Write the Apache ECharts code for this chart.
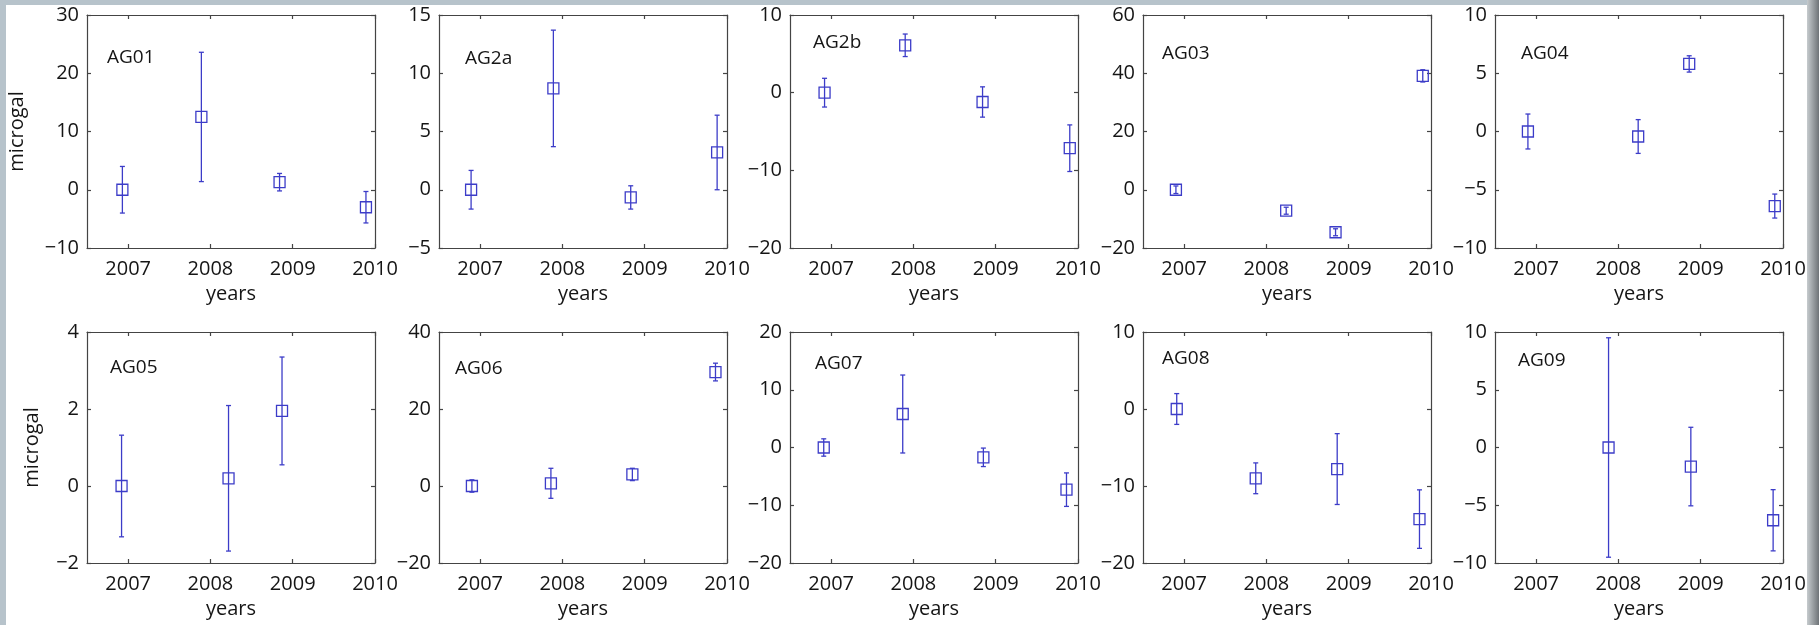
<!DOCTYPE html>
<html>
<head>
<meta charset="utf-8">
<script src="https://cdn.jsdelivr.net/npm/echarts@6.0.0/dist/echarts.min.js"></script>
<style>
html, body { margin: 0; padding: 0; background: #fff; }
#chart { width: 1819px; height: 625px; }
</style>
</head>
<body>
<div id="chart"></div>
<script>
// Data: gravity change per station (microgal), epoch in decimal years, symmetric error
const stations = ['AG01', 'AG2a', 'AG2b', 'AG03', 'AG04', 'AG05', 'AG06', 'AG07', 'AG08', 'AG09'];
const yearTicks = [2007, 2008, 2009, 2010];

const timeAG01 = [2006.93, 2007.89, 2008.84, 2009.89];
const gravAG01 = [0, 12.5, 1.3, -3.0];
const errAG01 = [4.0, 11.1, 1.5, 2.7];

const timeAG2a = [2006.89, 2007.89, 2008.83, 2009.88];
const gravAG2a = [0, 8.7, -0.66, 3.2];
const errAG2a = [1.66, 5.0, 1.0, 3.2];

const timeAG2b = [2006.92, 2007.9, 2008.84, 2009.9];
const gravAG2b = [0, 6.1, -1.2, -7.15];
const errAG2b = [1.85, 1.45, 1.95, 3.0];

const timeAG03 = [2006.9, 2008.24, 2008.84, 2009.9];
const gravAG03 = [0, -7.2, -14.6, 39.1];
const errAG03 = [1.3, 1.2, 1.2, 2.1];

const timeAG04 = [2006.9, 2008.24, 2008.86, 2009.9];
const gravAG04 = [0, -0.43, 5.8, -6.4];
const errAG04 = [1.5, 1.45, 0.7, 1.03];

const timeAG05 = [2006.92, 2008.22, 2008.87];
const gravAG05 = [0, 0.2, 1.95];
const errAG05 = [1.32, 1.89, 1.4];

const timeAG06 = [2006.9, 2007.86, 2008.85, 2009.86];
const gravAG06 = [0, 0.7, 3.0, 29.6];
const errAG06 = [1.6, 3.9, 1.6, 2.3];

const timeAG07 = [2006.91, 2007.87, 2008.85, 2009.86];
const gravAG07 = [0, 5.8, -1.7, -7.3];
const errAG07 = [1.5, 6.75, 1.6, 2.9];

const timeAG08 = [2006.91, 2007.87, 2008.86, 2009.86];
const gravAG08 = [0, -9.0, -7.8, -14.3];
const errAG08 = [2.0, 2.0, 4.6, 3.8];

const timeAG09 = [2007.88, 2008.88, 2009.88];
const gravAG09 = [0, -1.65, -6.3];
const errAG09 = [9.5, 3.4, 2.65];

const yMin = [-10, -5, -20, -20, -10, -2, -20, -20, -20, -10];
const yMax = [30, 15, 10, 60, 10, 4, 40, 20, 10, 10];
const yStep = [10, 5, 10, 20, 5, 2, 20, 10, 10, 5];

const panelData = [
    [timeAG01, gravAG01, errAG01],
    [timeAG2a, gravAG2a, errAG2a],
    [timeAG2b, gravAG2b, errAG2b],
    [timeAG03, gravAG03, errAG03],
    [timeAG04, gravAG04, errAG04],
    [timeAG05, gravAG05, errAG05],
    [timeAG06, gravAG06, errAG06],
    [timeAG07, gravAG07, errAG07],
    [timeAG08, gravAG08, errAG08],
    [timeAG09, gravAG09, errAG09]
];

// Layout
const gridLeft = [87, 439, 790, 1143, 1495];
const gridTop = [15, 332];
const gridHeight = [233, 231];
const gridWidth = 288;
const labelPos = [[107, 48], [465, 49], [813, 33], [1162, 44], [1521, 44],
                  [110, 358], [455, 359], [815, 354], [1162, 349], [1518, 351]];
const yNameGap = [60, 45];

const BLUE = '#3c3cc8';
const AXIS_COLOR = '#444444';
const TEXT_COLOR = '#151515';
const FONT = '"Open Sans", sans-serif';
const MARK = 11;
const CAP = 2.5;

function minus(v) {
    return v < 0 ? '\u2212' + Math.abs(v) : String(v);
}

function renderErrorBar(params, api) {
    const t = api.value(0), g = api.value(1), e = api.value(2);
    const c = api.coord([t, g]);
    const hi = api.coord([t, g + e]);
    const lo = api.coord([t, g - e]);
    const style = { stroke: BLUE, lineWidth: 1.3, fill: 'none' };
    const half = MARK / 2;
    return {
        type: 'group',
        children: [
            { type: 'line', shape: { x1: hi[0], y1: hi[1], x2: lo[0], y2: lo[1] }, style: style },
            { type: 'line', shape: { x1: hi[0] - CAP, y1: hi[1], x2: hi[0] + CAP, y2: hi[1] }, style: style },
            { type: 'line', shape: { x1: lo[0] - CAP, y1: lo[1], x2: lo[0] + CAP, y2: lo[1] }, style: style },
            { type: 'rect', shape: { x: c[0] - half, y: c[1] - half, width: MARK, height: MARK }, style: style }
        ]
    };
}

const grids = [], xAxes = [], yAxes = [], series = [], titles = [];
const lineStyle = { color: AXIS_COLOR, width: 1.2 };

stations.forEach(function (name, i) {
    const row = Math.floor(i / 5), col = i % 5;
    grids.push({ left: gridLeft[col], top: gridTop[row], width: gridWidth, height: gridHeight[row] });

    const xBase = {
        type: 'value', gridIndex: i, min: 2006.5, max: 2010,
        axisLine: { show: true, onZero: false, lineStyle: lineStyle },
        axisTick: { show: true, inside: true, length: 4, customValues: yearTicks, lineStyle: lineStyle },
        splitLine: { show: false }
    };
    xAxes.push(Object.assign({}, xBase, {
        position: 'bottom',
        axisLabel: {
            customValues: yearTicks, margin: 11, fontSize: 20, color: TEXT_COLOR, fontFamily: FONT,
            formatter: function (v) { return String(v); }
        },
        name: 'years', nameLocation: 'middle', nameGap: 36,
        nameTextStyle: { fontSize: 20, color: TEXT_COLOR, fontFamily: FONT }
    }));
    xAxes.push(Object.assign({}, xBase, { position: 'top', axisLabel: { show: false } }));

    const yBase = {
        type: 'value', gridIndex: i, min: yMin[i], max: yMax[i], interval: yStep[i],
        axisLine: { show: true, onZero: false, lineStyle: lineStyle },
        axisTick: { show: true, inside: true, length: 4, lineStyle: lineStyle },
        splitLine: { show: false }
    };
    const yLeft = Object.assign({}, yBase, {
        position: 'left',
        axisLabel: { margin: 8, fontSize: 20, color: TEXT_COLOR, fontFamily: FONT, formatter: minus }
    });
    if (col === 0) {
        Object.assign(yLeft, {
            name: 'microgal', nameLocation: 'middle', nameGap: yNameGap[row], nameRotate: 90,
            nameTextStyle: { fontSize: 20, color: TEXT_COLOR, fontFamily: FONT }
        });
    }
    yAxes.push(yLeft);
    yAxes.push(Object.assign({}, yBase, { position: 'right', axisLabel: { show: false } }));

    const d = panelData[i];
    series.push({
        type: 'custom',
        xAxisIndex: 2 * i,
        yAxisIndex: 2 * i,
        silent: true,
        clip: false,
        data: d[0].map(function (t, k) { return [t, d[1][k], d[2][k]]; }),
        renderItem: renderErrorBar
    });

    titles.push({
        text: name, left: labelPos[i][0], top: labelPos[i][1], padding: 0,
        textStyle: { fontSize: 19, fontWeight: 'normal', color: TEXT_COLOR, fontFamily: FONT }
    });
});

const chart = echarts.init(document.getElementById('chart'), null, { renderer: 'canvas' });
chart.setOption({
    backgroundColor: '#ffffff',
    animation: false,
    title: titles,
    grid: grids,
    xAxis: xAxes,
    yAxis: yAxes,
    series: series,
    graphic: [
        { type: 'rect', silent: true, shape: { x: 0, y: 0, width: 6, height: 625 }, style: { fill: '#b7c3cb' } },
        { type: 'rect', silent: true, shape: { x: 0, y: 0, width: 1819, height: 5 }, style: { fill: '#b7c3cb' } },
        {
            type: 'rect', silent: true, shape: { x: 1807, y: 0, width: 12, height: 625 },
            style: {
                fill: new echarts.graphic.LinearGradient(0, 0, 1, 0, [
                    { offset: 0, color: '#c6cbce' },
                    { offset: 1, color: '#6f7478' }
                ])
            }
        }
    ]
});
</script>
</body>
</html>
